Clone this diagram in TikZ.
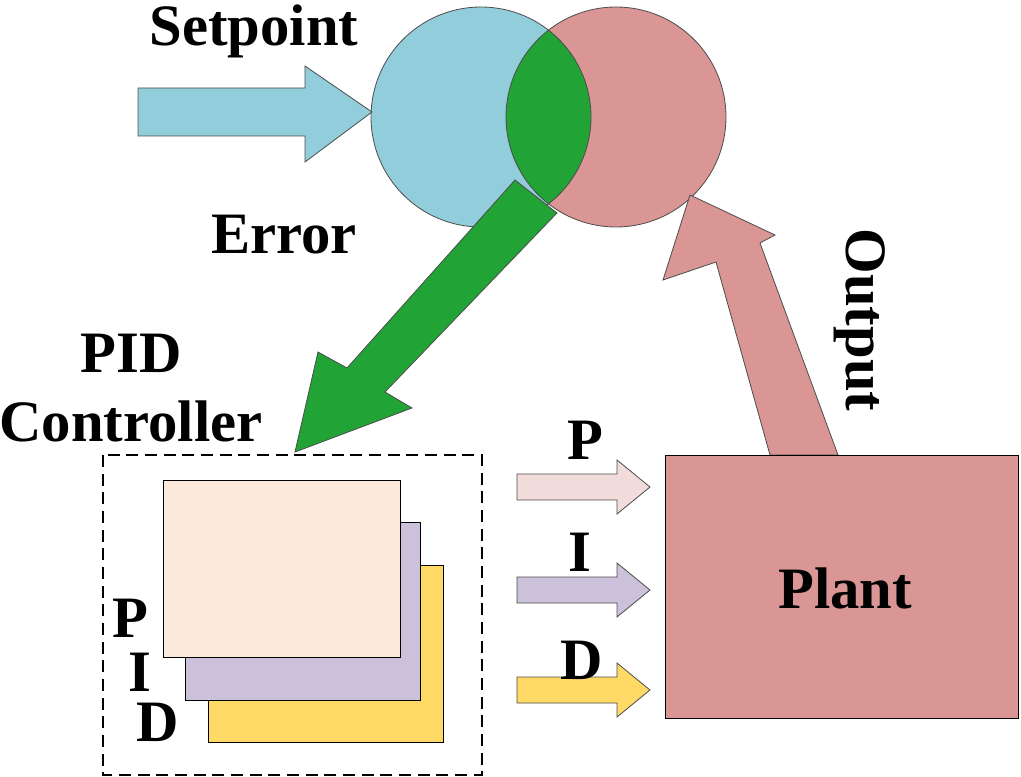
\documentclass[tikz,border=0pt]{standalone}
\usepackage{fontspec}
\setmainfont{Liberation Serif}
\begin{document}
\begin{tikzpicture}[x=0.75pt,y=-0.75pt,
  ol/.style={draw=black!70,line width=0.6pt},
  lbl/.style={font=\fontsize{44}{50}\selectfont\bfseries,inner sep=0pt},
  card/.style={ol,draw=black}]
\useasboundingbox (0,0) rectangle (1021,777);
\definecolor{cblue}{HTML}{92CDDC}
\definecolor{cred}{HTML}{D99694}
\definecolor{cgreen}{HTML}{21A336}
\definecolor{cpeach}{HTML}{FBE9DB}
\definecolor{cpurp}{HTML}{CCC1DA}
\definecolor{cyel}{HTML}{FFD966}
\definecolor{cpink}{HTML}{F2DCDB}
% circles
\coordinate (cb) at (481,117);
\coordinate (cr) at (616,117);
\fill[cblue] (cb) circle (110);
\fill[cred] (cr) circle (110);
\begin{scope}
\clip (cb) circle (110);
\fill[cgreen] (cr) circle (110);
\end{scope}
\draw[ol] (cb) circle (110);
\draw[ol] (cr) circle (110);
% setpoint arrow
\draw[ol,fill=cblue] (138,88)--(305,88)--(305,66)--(372,112)--(305,162)--(305,136)--(138,136)--cycle;
% green arrow
\draw[ol,fill=cgreen] (515,180)--(557,213)--(385,392)--(412,408)--(295,452)--(318,352)--(347,368)--cycle;
% output arrow
\draw[ol,fill=cred] (770,455)--(838,455)--(760,243)--(775,235)--(690,195)--(663,280)--(716,262)--cycle;
% plant
\node[ol,draw=black,fill=cred,minimum width=353*0.75pt,minimum height=263*0.75pt,inner sep=0pt,anchor=north west] (plant) at (665,455) {};
\node[lbl] (plantt) at (845,588) {Plant};
% PID box
\draw[dash pattern=on 9pt off 5pt,line width=0.8pt] (103,455) rectangle (482,775);
\draw[card,fill=cyel] (208,565) rectangle (443,742);
\draw[card,fill=cpurp] (185,522) rectangle (420,700);
\draw[card,fill=cpeach] (163,480) rectangle (400,657);
\node[lbl] (lp) at (130,618) {P};
\node[lbl] (li) at (140,672) {I};
\node[lbl] (ld) at (158,722) {D};
% small arrows
\foreach \yy/\cc in {487/cpink,590/cpurp,690/cyel}{
  \draw[ol,fill=\cc] (517,\yy-13)--(617,\yy-13)--(617,\yy-27)--(650,\yy)--(617,\yy+27)--(617,\yy+13)--(517,\yy+13)--cycle;
}
\node[lbl] (ap) at (585,440) {P};
\node[lbl] (ai) at (580,552) {I};
\node[lbl] (ad) at (582,660) {D};
% texts
\node[lbl] (sp) at (254,31) {Setpoint};
\node[lbl] (er) at (284,235) {Error};
\node[lbl,align=center] (pid) at (131,388) {PID\\[2pt]Controller};
\node[lbl,rotate=-90] (out) at (860,320) {Output};
\end{tikzpicture}
\end{document}
